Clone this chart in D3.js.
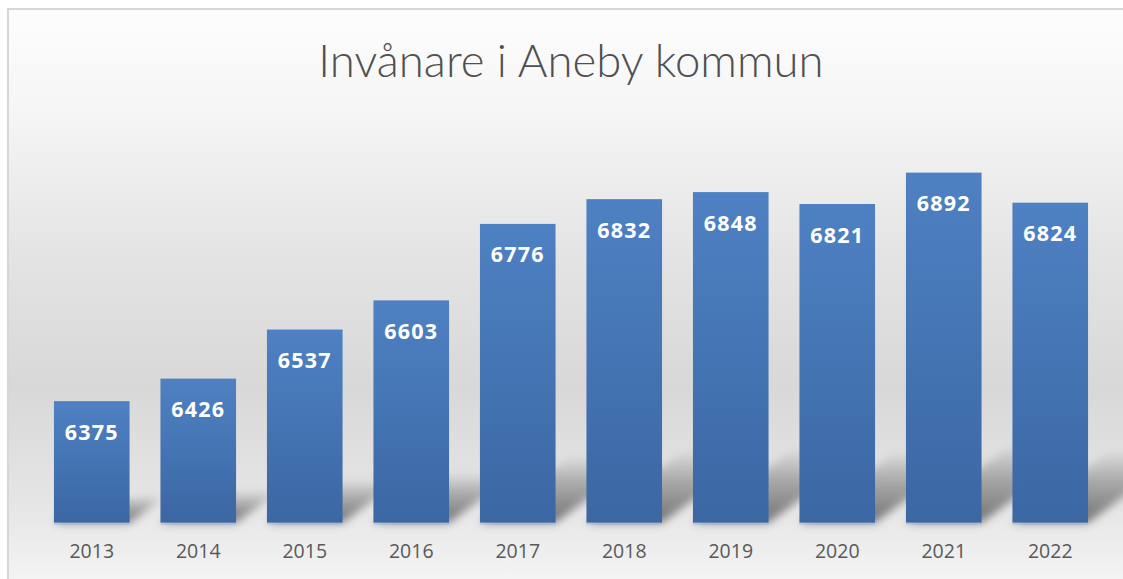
<!DOCTYPE html>
<html>
<head>
<meta charset="utf-8">
<script src="https://cdn.jsdelivr.net/npm/d3@7"></script>
<style>
  html, body { margin: 0; padding: 0; background: #fff; }
  svg { display: block; }
</style>
</head>
<body>
<svg id="chart"></svg>
<script>
const title = "Invånare i Aneby kommun";
const years = ["2013", "2014", "2015", "2016", "2017", "2018", "2019", "2020", "2021", "2022"];
const population = [6375, 6426, 6537, 6603, 6776, 6832, 6848, 6821, 6892, 6824];
const yDomain = [6100, 7000];

const width = 1123, height = 579;
const baseY = 522.7;

const svg = d3.select("#chart")
    .attr("width", width)
    .attr("height", height);

const defs = svg.append("defs");

// background gradient: white -> grey -> white
const bg = defs.append("linearGradient")
    .attr("id", "bg-grad")
    .attr("x1", 0).attr("x2", 0)
    .attr("y1", 0).attr("y2", 1);
[[0, "#fdfdfd"], [0.16, "#f6f6f6"], [0.4, "#e4e4e4"], [0.62, "#d8d8d8"], [0.82, "#e6e6e6"], [1, "#fbfbfb"]]
    .forEach(([o, c]) => bg.append("stop").attr("offset", o).attr("stop-color", c));

const barGrad = defs.append("linearGradient")
    .attr("id", "bar-grad")
    .attr("x1", 0).attr("x2", 0)
    .attr("y1", 0).attr("y2", 1);
barGrad.append("stop").attr("offset", 0).attr("stop-color", "#4e81c3");
barGrad.append("stop").attr("offset", 1).attr("stop-color", "#3b67a3");

const shadowGrad = defs.append("linearGradient")
    .attr("id", "shadow-grad")
    .attr("x1", 0).attr("x2", 0)
    .attr("y1", 1).attr("y2", 0);
shadowGrad.append("stop").attr("offset", 0).attr("stop-color", "#000").attr("stop-opacity", 0.5);
shadowGrad.append("stop").attr("offset", 0.6).attr("stop-color", "#000").attr("stop-opacity", 0.25);
shadowGrad.append("stop").attr("offset", 1).attr("stop-color", "#000").attr("stop-opacity", 0.02);

defs.append("filter")
    .attr("id", "blur")
    .attr("x", "-50%").attr("y", "-50%")
    .attr("width", "200%").attr("height", "200%")
    .append("feGaussianBlur")
    .attr("stdDeviation", 4);

// chart area
svg.append("rect")
    .attr("x", 8)
    .attr("y", 9)
    .attr("width", width + 30)
    .attr("height", height + 30)
    .attr("fill", "url(#bg-grad)")
    .attr("stroke", "#d6d6d6")
    .attr("stroke-width", 2);

svg.append("text")
    .attr("x", 571)
    .attr("y", 77)
    .attr("text-anchor", "middle")
    .attr("font-family", "Lato, 'Open Sans', sans-serif")
    .attr("font-weight", 300)
    .attr("font-size", 45.5)
    .attr("fill", "#505050")
    .text(title);

const x = d3.scaleBand()
    .domain(years)
    .range([38.5, 1103.5])
    .paddingInner(0.29)
    .paddingOuter(0.145);

const y = d3.scaleLinear()
    .domain(yDomain)
    .range([baseY, baseY - (yDomain[1] - yDomain[0]) * 0.442]);

const data = years.map((yr, i) => ({ year: yr, value: population[i] }));

// perspective shadows behind bars
svg.append("g")
    .attr("filter", "url(#blur)")
    .selectAll("path")
    .data(data)
    .join("path")
    .attr("fill", "url(#shadow-grad)")
    .attr("d", d => {
        const x0 = x(d.year), x1 = x0 + x.bandwidth();
        const h = baseY - y(d.value);
        const dx = h * 0.3, dy = h * 0.22;
        return `M${x0},${baseY}L${x1},${baseY}L${x1 + dx},${baseY - dy}L${x0 + dx},${baseY - dy}Z`;
    });

svg.append("g")
    .selectAll("rect")
    .data(data)
    .join("rect")
    .attr("x", d => x(d.year))
    .attr("y", d => y(d.value))
    .attr("width", x.bandwidth())
    .attr("height", d => baseY - y(d.value))
    .attr("fill", "url(#bar-grad)");

// faint reflection under bars
svg.append("g")
    .selectAll("rect")
    .data(data)
    .join("rect")
    .attr("x", d => x(d.year))
    .attr("y", baseY)
    .attr("width", x.bandwidth())
    .attr("height", 2)
    .attr("fill", "#9bb6dc")
    .attr("opacity", 0.5);

svg.append("g")
    .selectAll("text")
    .data(data)
    .join("text")
    .attr("x", d => x(d.year) + x.bandwidth() / 2)
    .attr("y", d => y(d.value) + 38.5)
    .attr("text-anchor", "middle")
    .attr("font-family", "'Open Sans', sans-serif")
    .attr("font-weight", 700)
    .attr("font-size", 21.5)
    .attr("letter-spacing", 1.2)
    .attr("fill", "#fff")
    .text(d => d.value);

const axis = svg.append("g")
    .attr("transform", `translate(0,${baseY})`)
    .call(d3.axisBottom(x).tickSize(0).tickPadding(0));
axis.select(".domain").remove();
axis.selectAll("text")
    .attr("dy", null)
    .attr("y", 35.6)
    .attr("font-family", "'Open Sans', sans-serif")
    .attr("font-size", 19.5)
    .attr("fill", "#595959");
</script>
</body>
</html>
